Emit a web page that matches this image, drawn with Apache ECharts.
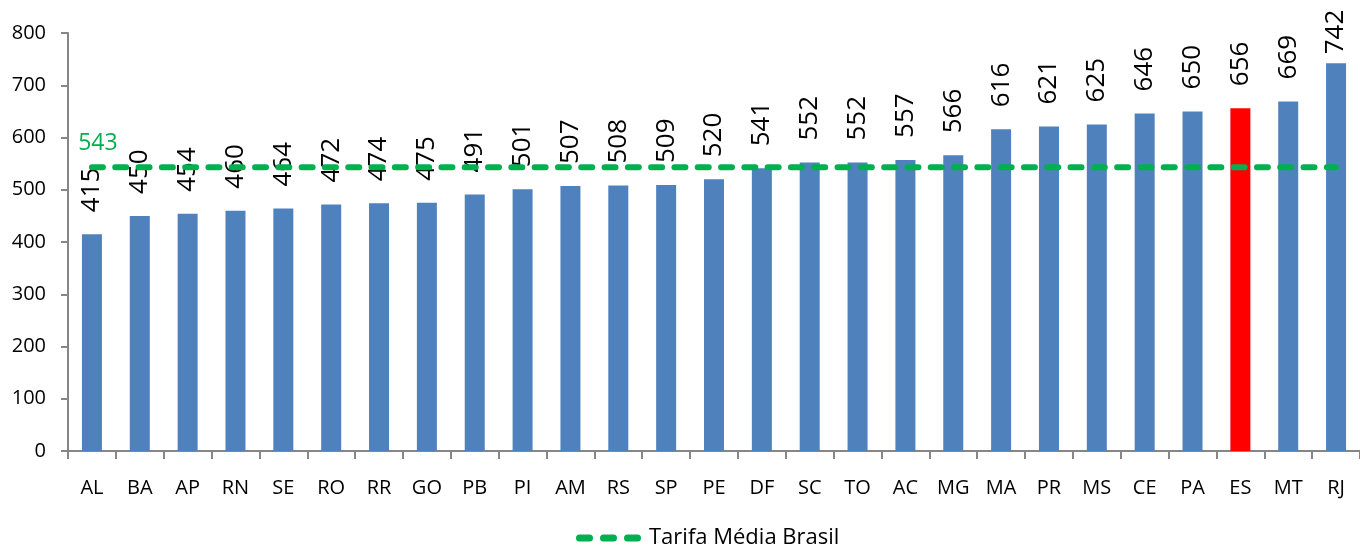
<!DOCTYPE html>
<html>
<head>
<meta charset="utf-8">
<script src="https://cdn.jsdelivr.net/npm/echarts@6/dist/echarts.min.js"></script>
<style>
html,body{margin:0;padding:0;background:#fff;}
#chart{width:1360px;height:549px;}
</style>
</head>
<body>
<div id="chart"></div>
<script>
const categories = ['AL','BA','AP','RN','SE','RO','RR','GO','PB','PI','AM','RS','SP','PE','DF','SC','TO','AC','MG','MA','PR','MS','CE','PA','ES','MT','RJ'];
const tariffs = [415,450,454,460,464,472,474,475,491,501,507,508,509,520,541,552,552,557,566,616,621,625,646,650,656,669,742];
const averageTariff = 543;
const highlightState = 'ES';
const yTicks = {min: 0, max: 800, interval: 100};

const FONT = 'Open Sans';
const chart = echarts.init(document.getElementById('chart'), null, {renderer: 'canvas'});

const barData = tariffs.map((v, i) => {
  const item = {value: v};
  if (categories[i] === highlightState) item.itemStyle = {color: '#ff0000'};
  if (i === tariffs.length - 1) item.label = {distance: 9};
  return item;
});
const lineData = categories.map((c, i) => {
  const item = {value: averageTariff};
  if (i === 0) item.label = {show: true};
  return item;
});

const dashIcon = 'path://' +
  'M3.5,0 H13.5 A3.5,3.5 0 0 1 13.5,7 H3.5 A3.5,3.5 0 0 1 3.5,0 Z ' +
  'M27.5,0 H37.5 A3.5,3.5 0 0 1 37.5,7 H27.5 A3.5,3.5 0 0 1 27.5,0 Z ' +
  'M51.5,0 H61.5 A3.5,3.5 0 0 1 61.5,7 H51.5 A3.5,3.5 0 0 1 51.5,0 Z';

chart.setOption({
  animation: false,
  grid: {left: 68, right: -12, top: 33, bottom: 98, containLabel: false},
  legend: {
    data: [{name: 'Tarifa Média Brasil', icon: dashIcon}],
    left: 571, top: 522,
    itemWidth: 67, itemHeight: 7, itemGap: 10,
    textStyle: {fontFamily: FONT, fontSize: 22, color: '#000', padding: [0, 0, 0, 2]}
  },
  xAxis: {
    type: 'category',
    data: categories,
    boundaryGap: true,
    axisLine: {lineStyle: {color: '#868686', width: 2}},
    axisTick: {show: true, length: 8, interval: 0, lineStyle: {color: '#868686', width: 2}},
    axisLabel: {interval: 0, margin: 27, fontFamily: FONT, fontSize: 20, color: '#000'}
  },
  yAxis: {
    type: 'value',
    min: yTicks.min, max: yTicks.max, interval: yTicks.interval,
    splitLine: {show: false},
    axisLine: {show: true, lineStyle: {color: '#868686', width: 2}},
    axisTick: {show: true, length: 7, lineStyle: {color: '#868686', width: 2}},
    axisLabel: {margin: 22, fontFamily: FONT, fontSize: 20, color: '#000'}
  },
  series: [
    {
      name: 'Tarifas',
      type: 'bar',
      data: barData,
      barWidth: 20,
      itemStyle: {color: '#4f81bd'},
      label: {
        show: true, position: 'top', distance: 22, rotate: 90,
        align: 'left', verticalAlign: 'middle',
        fontFamily: FONT, fontSize: 26, color: '#000'
      },
      z: 2
    },
    {
      name: 'Tarifa Média Brasil',
      type: 'line',
      data: lineData,
      symbol: 'circle',
      symbolSize: 0,
      showSymbol: true,
      lineStyle: {color: '#00b050', width: 6, type: [11, 12.3], cap: 'round'},
      itemStyle: {color: '#00b050'},
      label: {
        show: false, position: 'top', distance: 12, offset: [6, 0],
        fontFamily: FONT, fontSize: 23, color: '#00b050'
      },
      z: 3
    }
  ]
});
</script>
</body>
</html>
